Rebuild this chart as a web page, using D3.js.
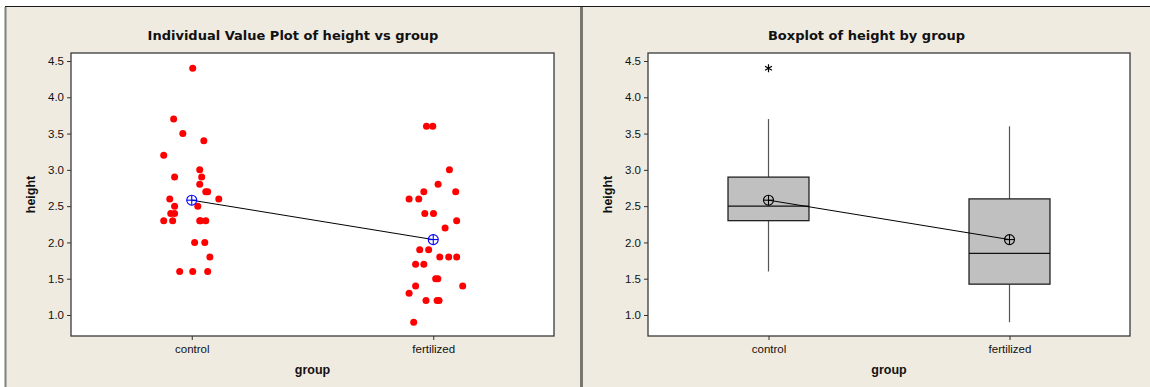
<!DOCTYPE html>
<html>
<head>
<meta charset="utf-8">
<script src="https://cdn.jsdelivr.net/npm/d3@7"></script>
<style>
  html, body { margin: 0; padding: 0; background: #ffffff; }
  svg { display: block; }
  text { font-family: "Liberation Sans", Arial, sans-serif; fill: #111; }
</style>
</head>
<body>
<svg id="chart" width="1150" height="387"></svg>
<script>
// Plant height measurements for the two treatment groups
const groups = ["control", "fertilized"];
const controlHeights = [4.4, 3.7, 3.5, 3.4, 3.2, 3.0, 2.9, 2.9, 2.8, 2.7, 2.7, 2.6, 2.6, 2.5, 2.5,
  2.4, 2.4, 2.3, 2.3, 2.3, 2.3, 2.3, 2.0, 2.0, 1.8, 1.6, 1.6, 1.6];
const fertilizedHeights = [3.6, 3.6, 3.0, 2.8, 2.7, 2.7, 2.6, 2.6, 2.4, 2.4, 2.3, 2.2, 1.9, 1.9,
  1.8, 1.8, 1.8, 1.7, 1.7, 1.5, 1.5, 1.4, 1.4, 1.3, 1.2, 1.2, 1.2, 0.9];
// Horizontal jitter for the individual value plot (in group units)
const controlJitter = [0.004, -0.075, -0.037, 0.05, -0.116, 0.033, -0.071, 0.041, 0.033, 0.058, 0.066,
  -0.091, 0.112, -0.071, 0.025, -0.087, -0.071, -0.116, -0.079, 0.033, 0.036, 0.058, 0.012, 0.054, 0.075,
  -0.05, 0.004, 0.066];
const fertilizedJitter = [-0.028, -0.002, 0.067, 0.02, -0.039, 0.093, -0.10, -0.06, -0.035, 0.001,
  0.097, 0.049, -0.056, -0.019, 0.027, 0.064, 0.097, -0.073, -0.039, 0.01, 0.019, -0.073, 0.122,
  -0.10, -0.03, 0.016, 0.024, -0.081];
const yTicks = [1.0, 1.5, 2.0, 2.5, 3.0, 3.5, 4.0, 4.5];

const groupData = [
  { name: groups[0], values: controlHeights, jitter: controlJitter },
  { name: groups[1], values: fertilizedHeights, jitter: fertilizedJitter }
];

const svg = d3.select("#chart");
const BG = "#efebe1";

// page background and panel borders
svg.append("rect").attr("x", 0).attr("y", 0).attr("width", 1150).attr("height", 387).attr("fill", "#ffffff");
svg.append("rect").attr("x", 5).attr("y", 7).attr("width", 1145).attr("height", 380).attr("fill", BG);
svg.append("line").attr("x1", 5).attr("x2", 1150).attr("y1", 6.5).attr("y2", 6.5)
  .attr("stroke", "#1a1a1a").attr("stroke-width", 1.2);
svg.append("line").attr("x1", 5.5).attr("x2", 5.5).attr("y1", 7).attr("y2", 387)
  .attr("stroke", "#808080").attr("stroke-width", 2);
svg.append("line").attr("x1", 581.5).attr("x2", 581.5).attr("y1", 7).attr("y2", 387)
  .attr("stroke", "#77766f").attr("stroke-width", 3);

// Minitab-style quartile (position (n+1)p with interpolation)
function quartile(sorted, p) {
  const pos = (sorted.length + 1) * p;
  const lo = Math.floor(pos), frac = pos - lo;
  const a = sorted[Math.max(0, Math.min(sorted.length - 1, lo - 1))];
  const b = sorted[Math.max(0, Math.min(sorted.length - 1, lo))];
  return a + frac * (b - a);
}

function panel(opts) {
  const { left, right, top, bottom, panelLeft, panelRight, title } = opts;
  const g = svg.append("g");

  const x = d3.scaleLinear().domain([0.5, 2.5]).range([left, right]);
  const y = d3.scaleLinear().domain([1.0, 4.5]).range([315, 61]);

  g.append("text")
    .attr("x", (panelLeft + panelRight) / 2).attr("y", 40)
    .attr("text-anchor", "middle").attr("font-weight", "bold").attr("font-size", 13)
    .style("font-family", "'DejaVu Sans', sans-serif")
    .text(title);

  g.append("rect")
    .attr("x", left).attr("y", top).attr("width", right - left).attr("height", bottom - top)
    .attr("fill", "#ffffff").attr("stroke", "#3a3a3a").attr("stroke-width", 1.3);

  // y axis
  const yAxis = g.append("g").attr("transform", `translate(${left},0)`)
    .call(d3.axisLeft(y).tickValues(yTicks).tickFormat(d3.format(".1f")).tickSize(4).tickPadding(3));
  yAxis.select(".domain").remove();
  yAxis.selectAll("line").attr("stroke", "#333");
  yAxis.selectAll("text").attr("font-size", 11.5).attr("fill", "#222")
    .style("font-family", "'Liberation Sans', Arial, sans-serif");

  // x axis
  const xAxis = g.append("g").attr("transform", `translate(0,${bottom})`)
    .call(d3.axisBottom(x).tickValues([1, 2]).tickFormat(d => groups[d - 1]).tickSize(4).tickPadding(5));
  xAxis.select(".domain").remove();
  xAxis.selectAll("line").attr("stroke", "#333");
  xAxis.selectAll("text").attr("font-size", 11.5).attr("fill", "#222")
    .style("font-family", "'Liberation Sans', Arial, sans-serif");

  g.append("text")
    .attr("x", (left + right) / 2).attr("y", 374)
    .attr("text-anchor", "middle").attr("font-weight", "bold").attr("font-size", 12.5)
    .text("group");
  g.append("text")
    .attr("transform", `translate(${left - 36},${(top + bottom) / 2}) rotate(-90)`)
    .attr("text-anchor", "middle").attr("font-weight", "bold").attr("font-size", 12.5)
    .text("height");

  return { g, x, y };
}

function meanMarker(g, cx, cy, color) {
  const r = 5;
  g.append("circle").attr("cx", cx).attr("cy", cy).attr("r", r)
    .attr("fill", "none").attr("stroke", color).attr("stroke-width", 1.1);
  g.append("line").attr("x1", cx - r).attr("x2", cx + r).attr("y1", cy).attr("y2", cy)
    .attr("stroke", color).attr("stroke-width", 1.1);
  g.append("line").attr("x1", cx).attr("x2", cx).attr("y1", cy - r).attr("y2", cy + r)
    .attr("stroke", color).attr("stroke-width", 1.1);
}

// ---- Individual value plot ----
{
  const { g, x, y } = panel({
    left: 71, right: 554, top: 53, bottom: 336, panelLeft: 6, panelRight: 580,
    title: "Individual Value Plot of height vs group"
  });
  groupData.forEach((grp, gi) => {
    g.selectAll(null).data(grp.values.map((v, i) => ({ v, j: grp.jitter[i] })))
      .enter().append("circle")
      .attr("cx", d => x(gi + 1 + d.j)).attr("cy", d => y(d.v)).attr("r", 3.5)
      .attr("fill", "#ff0000");
  });
  const means = groupData.map(grp => d3.mean(grp.values));
  g.append("path")
    .attr("d", d3.line()(means.map((m, i) => [x(i + 1), y(m)])))
    .attr("stroke", "#000").attr("stroke-width", 1).attr("fill", "none");
  means.forEach((m, i) => meanMarker(g, x(i + 1), y(m), "#0000ff"));
}

// ---- Boxplot ----
{
  const { g, x, y } = panel({
    left: 648, right: 1130, top: 53, bottom: 336, panelLeft: 583, panelRight: 1150,
    title: "Boxplot of height by group"
  });
  const boxHalf = 0.168;
  const stats = groupData.map(grp => {
    const s = grp.values.slice().sort(d3.ascending);
    const q1 = quartile(s, 0.25), med = quartile(s, 0.5), q3 = quartile(s, 0.75);
    const iqr = q3 - q1;
    const inside = s.filter(v => v >= q1 - 1.5 * iqr && v <= q3 + 1.5 * iqr);
    return {
      q1, med, q3, lo: d3.min(inside), hi: d3.max(inside),
      outliers: s.filter(v => v < q1 - 1.5 * iqr || v > q3 + 1.5 * iqr),
      mean: d3.mean(s)
    };
  });
  stats.forEach((st, i) => {
    const cx = x(i + 1);
    g.append("line").attr("x1", cx).attr("x2", cx).attr("y1", y(st.q3)).attr("y2", y(st.hi))
      .attr("stroke", "#555").attr("stroke-width", 1.2);
    g.append("line").attr("x1", cx).attr("x2", cx).attr("y1", y(st.q1)).attr("y2", y(st.lo))
      .attr("stroke", "#555").attr("stroke-width", 1.2);
    g.append("rect")
      .attr("x", x(i + 1 - boxHalf)).attr("y", y(st.q3))
      .attr("width", x(i + 1 + boxHalf) - x(i + 1 - boxHalf)).attr("height", y(st.q1) - y(st.q3))
      .attr("fill", "#c0c0c0").attr("stroke", "#222").attr("stroke-width", 1.3);
    g.append("line").attr("x1", x(i + 1 - boxHalf)).attr("x2", x(i + 1 + boxHalf))
      .attr("y1", y(st.med)).attr("y2", y(st.med)).attr("stroke", "#111").attr("stroke-width", 1.3);
    st.outliers.forEach(v => {
      const oy = y(v), s = 4;
      const star = `M${cx},${oy - s}L${cx},${oy + s}` +
        `M${cx - s * 0.87},${oy - s * 0.5}L${cx + s * 0.87},${oy + s * 0.5}` +
        `M${cx - s * 0.87},${oy + s * 0.5}L${cx + s * 0.87},${oy - s * 0.5}`;
      g.append("path").attr("d", star).attr("stroke", "#000").attr("stroke-width", 1.2).attr("fill", "none");
    });
  });
  g.append("path")
    .attr("d", d3.line()(stats.map((st, i) => [x(i + 1), y(st.mean)])))
    .attr("stroke", "#000").attr("stroke-width", 1).attr("fill", "none");
  stats.forEach((st, i) => meanMarker(g, x(i + 1), y(st.mean), "#000"));
}
</script>
</body>
</html>
